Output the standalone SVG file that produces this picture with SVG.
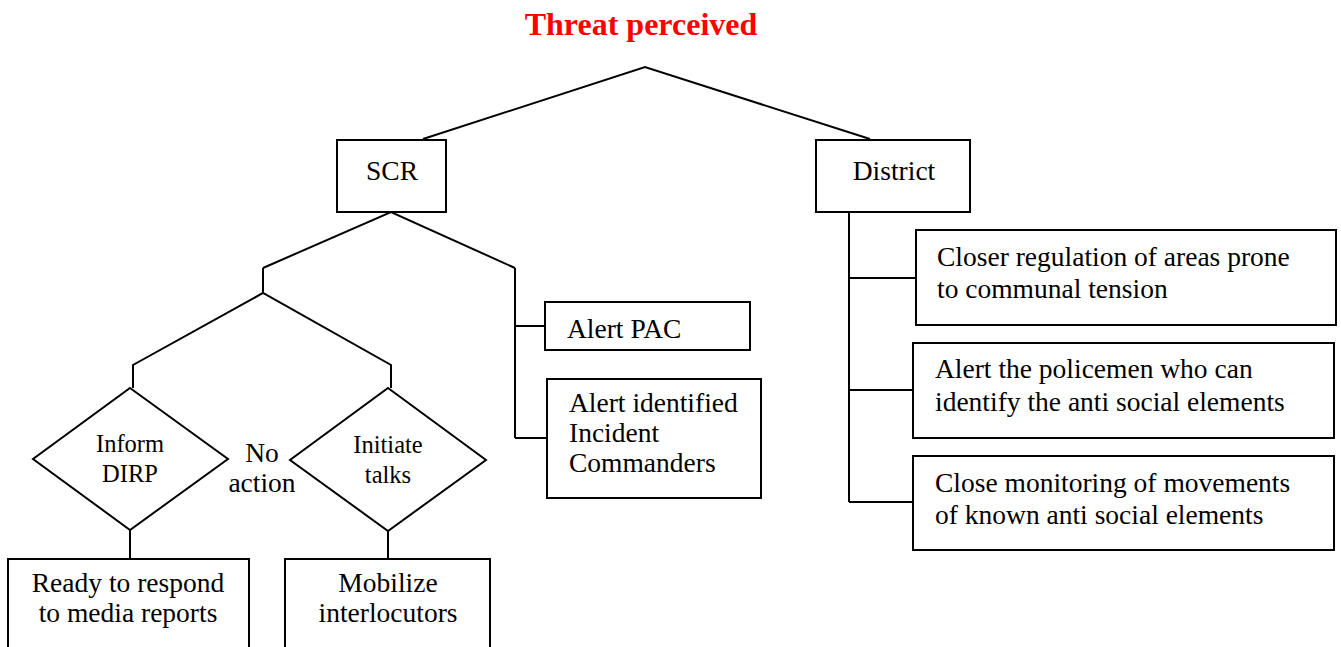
<svg xmlns="http://www.w3.org/2000/svg" width="1341" height="647" viewBox="0 0 1341 647">
<style>
.b{fill:#fff;stroke:#000;stroke-width:2}
.c{fill:none;stroke:#000;stroke-width:2}
text{font-family:"Liberation Serif",serif;font-size:27.5px;fill:#000}
.m{text-anchor:middle}
.s{font-size:24.5px}
.t{font-size:32px;font-weight:bold;fill:#f00}
</style>
<rect width="1341" height="647" fill="#fff"/>
<g id="connectors">
<polyline class="c" points="423,139 645,67 870,139"/>
<polyline class="c" points="263,268 391,212 515,268"/>
<line class="c" x1="263" y1="268" x2="263" y2="293"/>
<polyline class="c" points="133,388 133,365 263,293 391,365 391,388"/>
<line class="c" x1="515" y1="268" x2="515" y2="438"/>
<line class="c" x1="515" y1="326" x2="545" y2="326"/>
<line class="c" x1="515" y1="438" x2="547" y2="438"/>
<line class="c" x1="130" y1="530" x2="130" y2="559"/>
<line class="c" x1="388" y1="531" x2="388" y2="559"/>
<line class="c" x1="849" y1="213" x2="849" y2="502"/>
<line class="c" x1="849" y1="278" x2="916" y2="278"/>
<line class="c" x1="849" y1="390" x2="913" y2="390"/>
<line class="c" x1="849" y1="502" x2="913" y2="502"/>
</g>
<g id="title"><text class="t m" x="641" y="35">Threat perceived</text></g>
<g id="scr"><rect class="b" x="337" y="140" width="109" height="72"/><text class="m" x="392" y="180">SCR</text></g>
<g id="district"><rect class="b" x="816" y="140" width="154" height="72"/><text class="m" x="894" y="180">District</text></g>
<g id="alert-pac"><rect class="b" x="545" y="302" width="205" height="48"/><text x="567" y="338">Alert PAC</text></g>
<g id="alert-ic"><rect class="b" x="547" y="379" width="214" height="119"/><text x="569" y="412">Alert identified</text><text x="569" y="442">Incident</text><text x="569" y="472">Commanders</text></g>
<g id="inform-dirp"><polygon class="b" points="130,388 228,459 130,530 33,459"/><text class="m s" x="130" y="452">Inform</text><text class="m s" x="130" y="482">DIRP</text></g>
<g id="no-action"><text class="m" x="262" y="462">No</text><text class="m" x="262" y="492">action</text></g>
<g id="initiate-talks"><polygon class="b" points="388,388 486,460 388,531 290,460"/><text class="m s" x="388" y="453">Initiate</text><text class="m s" x="388" y="483">talks</text></g>
<g id="ready"><rect class="b" x="8" y="559" width="241" height="95"/><text class="m" x="128" y="592">Ready to respond</text><text class="m" x="128" y="622">to media reports</text></g>
<g id="mobilize"><rect class="b" x="285" y="559" width="205" height="95"/><text class="m" x="388" y="592">Mobilize</text><text class="m" x="388" y="622">interlocutors</text></g>
<g id="closer"><rect class="b" x="916" y="230" width="420" height="95"/><text x="937" y="266">Closer regulation of areas prone</text><text x="937" y="298">to communal tension</text></g>
<g id="alert-police"><rect class="b" x="913" y="343" width="421" height="95"/><text x="935" y="378">Alert the policemen who can</text><text x="935" y="411">identify the anti social elements</text></g>
<g id="close-mon"><rect class="b" x="913" y="456" width="421" height="94"/><text x="935" y="492">Close monitoring of movements</text><text x="935" y="524">of known anti social elements</text></g>
</svg>
